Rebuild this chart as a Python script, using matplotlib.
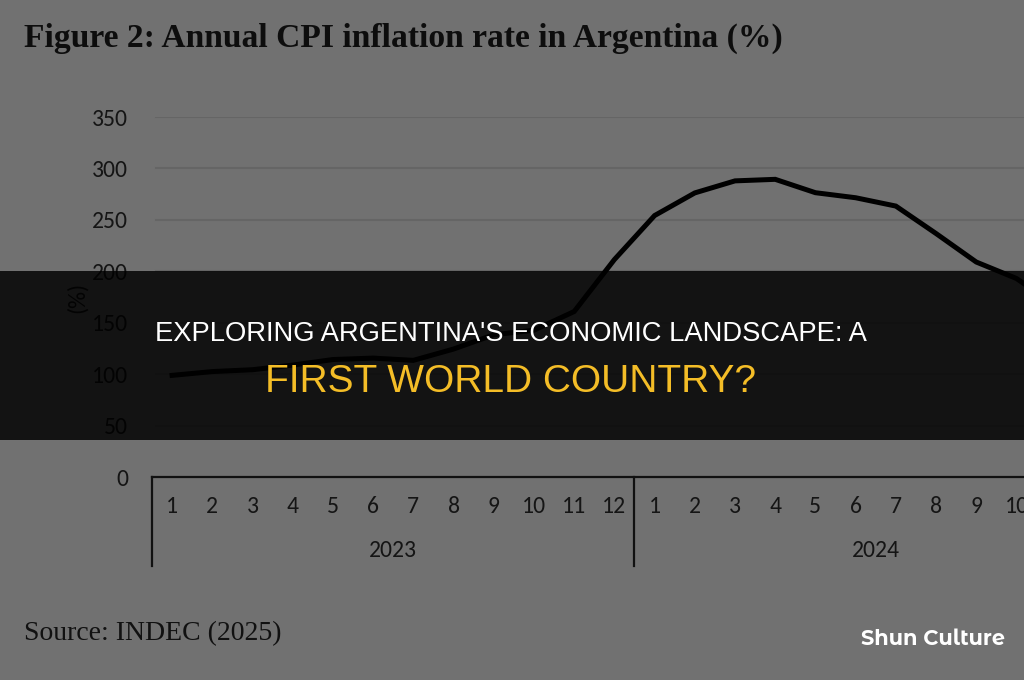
import numpy as np
import matplotlib.pyplot as plt
from matplotlib.patches import Rectangle
from matplotlib.transforms import blended_transform_factory

# data (annual CPI inflation, %)
months = ['1', '2', '3', '4', '5', '6', '7', '8', '9', '10', '11', '12'] * 2
years = ['2023', '2024']
cpi = [98.8, 102.5, 104.3, 108.8, 114.2, 115.6, 113.4, 124.4, 138.3, 142.7, 160.9, 211.4,
       254.2, 276.2, 287.9, 289.4, 276.4, 271.5, 263.4, 236.7, 209.0, 193.0, 166.0, 117.8]
yticks = [0, 50, 100, 150, 200, 250, 300, 350]

bg = '#717171'
ink = '#151515'
tick_font = ['Carlito', 'DejaVu Sans']
banner_font = ['Liberation Sans', 'DejaVu Sans']

fig = plt.figure(figsize=(10.24, 6.8), dpi=100)
fig.patch.set_facecolor(bg)

# axes runs past the right edge like the cropped original
ax = fig.add_axes([152 / 1024, 203 / 680, 965 / 1024, 360 / 680])
ax.set_facecolor(bg)
x = np.arange(len(cpi))
ax.plot(x, cpi, color='black', lw=3.6, solid_joinstyle='miter', zorder=3)

ax.set_xlim(-0.5, len(cpi) - 0.5)
ax.set_ylim(0, 350)
ax.set_yticks(yticks)
ax.set_yticklabels([str(v) for v in yticks], fontfamily=tick_font, fontsize=17, color=ink)
ax.tick_params(axis='y', length=0, pad=17)
for v in yticks[1:]:
    ax.axhline(v, xmin=0.004, color='#656565', lw=1.5, zorder=1)

for s in ['top', 'right', 'left']:
    ax.spines[s].set_visible(False)
ax.spines['bottom'].set_color('#111111')
ax.spines['bottom'].set_linewidth(1.6)
ax.set_xticks([])

# two-level category axis
tr = blended_transform_factory(ax.transData, ax.transAxes)
for i, m in enumerate(months):
    ax.text(i, -0.082, m, transform=tr, ha='center', va='center',
            fontfamily=tick_font, fontsize=17, color=ink)
for k, yr in enumerate(years):
    ax.text(k * 12 + 5.5, -0.205, yr, transform=tr, ha='center', va='center',
            fontfamily=tick_font, fontsize=17, color=ink)
for b in [-0.5, 11.5, 23.5]:
    ax.plot([b, b], [0, -0.247], transform=tr, color='#111111', lw=1.6, clip_on=False)

fig.text(77 / 1024, 1 - 297 / 680, '(%)', rotation=90, ha='center', va='center',
         fontfamily=tick_font, fontsize=17, color=ink)

fig.text(24 / 1024, 1 - 38 / 680, 'Figure 2: Annual CPI inflation rate in Argentina (%)',
         ha='left', va='center', fontfamily='Liberation Serif', fontweight='bold',
         fontsize=24.2, color='#0d0d0d')
fig.text(24 / 1024, 1 - 634 / 680, 'Source: INDEC (2025)', ha='left', va='center',
         fontfamily='Liberation Serif', fontsize=20, color='#111111')

# dark banner over the chart
fig.patches.append(Rectangle((0, 1 - 440 / 680), 1, 169 / 680, transform=fig.transFigure,
                             facecolor='black', alpha=0.83, zorder=10))
fig.text(511 / 1024, 1 - 334 / 680, "EXPLORING ARGENTINA'S ECONOMIC LANDSCAPE: A",
         ha='center', va='center', fontfamily=banner_font,
         fontsize=19.7, color='white', zorder=11)
fig.text(511 / 1024, 1 - 382 / 680, 'FIRST WORLD COUNTRY?', ha='center', va='center',
         fontfamily=banner_font, fontsize=28, color='#f4bd27', zorder=11)

fig.text(933 / 1024, 1 - 639 / 680, 'Shun Culture', ha='center', va='center',
         fontfamily=['Montserrat Alternates', 'DejaVu Sans'], fontweight='bold', fontsize=15,
         color='white')

fig.savefig('out.png', dpi=100, facecolor=bg)
